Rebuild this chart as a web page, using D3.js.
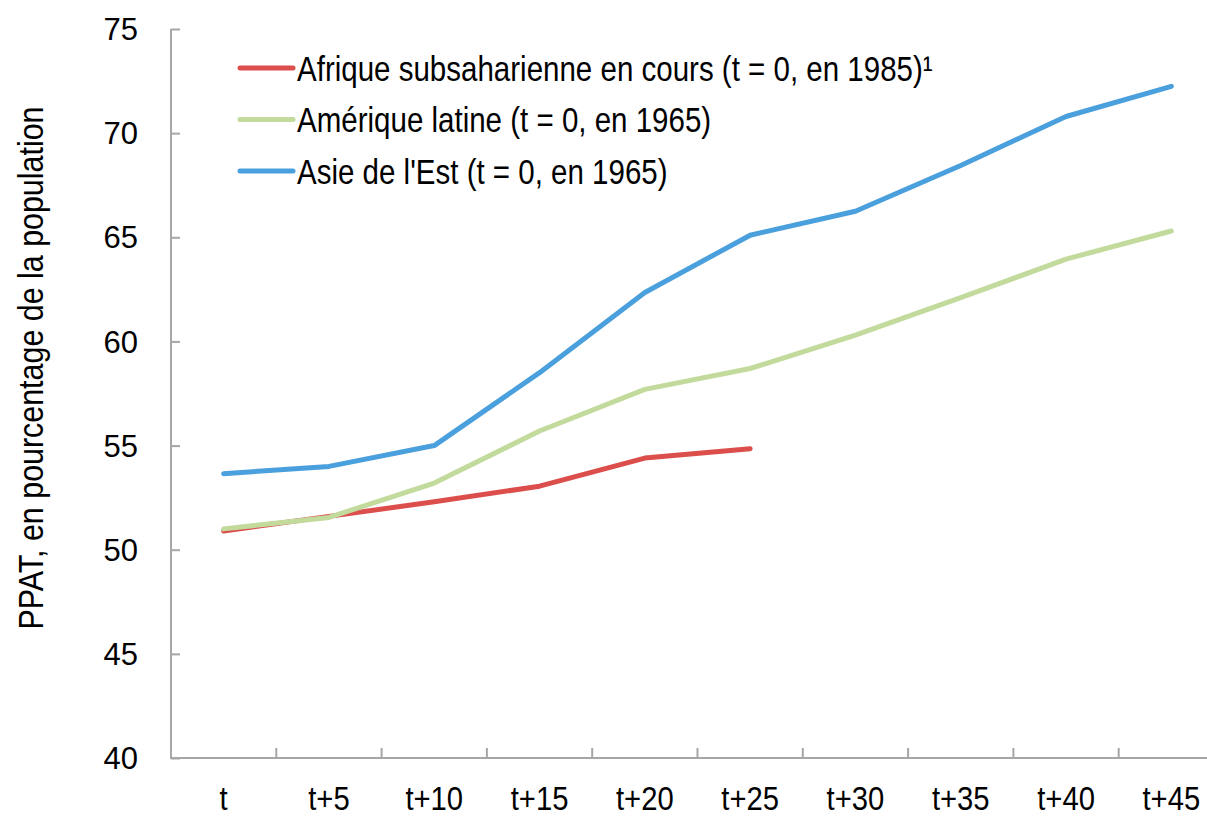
<!DOCTYPE html>
<html><head><meta charset="utf-8">
<script src="https://cdn.jsdelivr.net/npm/d3@7"></script>
<style>body{margin:0;background:#fff}svg{display:block}</style>
</head><body>
<svg id="c" width="1207" height="818"></svg>
<script>
const categories = ["t","t+5","t+10","t+15","t+20","t+25","t+30","t+35","t+40","t+45"];
const afrique = [50.9, 51.6, 52.3, 53.05, 54.4, 54.85];
const amerique = [51.0, 51.55, 53.2, 55.7, 57.7, 58.7, 60.3, 62.1, 63.95, 65.3];
const asie = [53.65, 54.0, 55.0, 58.5, 62.35, 65.1, 66.25, 68.45, 70.8, 72.25];
const seriesNames = ["Afrique subsaharienne en cours (t = 0, en 1985)¹","Amérique latine (t = 0, en 1965)","Asie de l'Est (t = 0, en 1965)"];
const seriesColors = ["#dc4e4c","#c2da9b","#4a9fdd"];
const yTicks = [40,45,50,55,60,65,70,75];
const yTitle = "PPAT, en pourcentage de la population";

const svg = d3.select("#c");
const FONT = "Liberation Sans, Arial, sans-serif";
const NARROW = 0.82;
const mLeft = 171, mTop = 29, mBottom = 758, bandW = 105.3;
const x = d3.scaleBand().domain(categories).range([mLeft, mLeft + bandW*categories.length]).padding(0);
const y = d3.scaleLinear().domain([40,75]).range([mBottom, mTop]);
const axisColor = "#a6a6a6";

// y axis
const ya = svg.append("g").attr("transform",`translate(${mLeft},0)`)
  .call(d3.axisRight(y).tickValues(yTicks).tickSize(9).tickFormat(""));
ya.select(".domain").attr("stroke",axisColor).attr("stroke-width",2).attr("d",`M0,${mTop}V${mBottom}`);
ya.selectAll(".tick line").attr("stroke",axisColor).attr("stroke-width",2);
svg.append("g").selectAll("text").data(yTicks).join("text")
  .attr("x",138).attr("y",d=>y(d)).attr("dy","0.36em").attr("text-anchor","end")
  .attr("font-family",FONT).attr("font-size",31).attr("fill","#000")
  .text(d=>d);

// x axis
const xa = svg.append("g").attr("transform",`translate(0,${mBottom})`);
xa.append("line").attr("x1",mLeft-1).attr("x2",1207).attr("y1",0).attr("y2",0).attr("stroke",axisColor).attr("stroke-width",2);
xa.selectAll("line.tk").data(categories.slice(1)).join("line").attr("class","tk")
  .attr("x1",d=>x(d)).attr("x2",d=>x(d)).attr("y1",0).attr("y2",-10).attr("stroke",axisColor).attr("stroke-width",2);
xa.selectAll("text").data(categories).join("text")
  .attr("transform",d=>`translate(${x(d)+x.bandwidth()/2},52) scale(0.86,1)`)
  .attr("text-anchor","middle")
  .attr("font-family",FONT).attr("font-size",34).attr("fill","#000")
  .text(d=>d);

// y title
svg.append("text").attr("transform",`translate(43,368) rotate(-90) scale(0.845,1)`).attr("text-anchor","middle")
  .attr("font-family",FONT).attr("font-size",36).attr("fill","#000")
  .text(yTitle);

// lines
const line = d3.line().x((d,i)=>x(categories[i])+x.bandwidth()/2).y(d=>y(d));
[afrique, amerique, asie].forEach((s,i)=>{
  svg.append("path").datum(s).attr("d",line).attr("fill","none")
    .attr("stroke",seriesColors[i]).attr("stroke-width",5).attr("stroke-linejoin","round").attr("stroke-linecap","round");
});
// legend
const lg = svg.append("g");
seriesNames.forEach((n,i)=>{
  const yy = 68 + i*51.5;
  lg.append("line").attr("x1",240).attr("x2",293).attr("y1",yy).attr("y2",yy)
    .attr("stroke",seriesColors[i]).attr("stroke-width",5).attr("stroke-linecap","round");
  lg.append("text").attr("transform",`translate(297,${yy}) scale(${NARROW},1)`).attr("dy","0.36em")
    .attr("font-family",FONT).attr("font-size",36).attr("fill","#000")
    .text(n);
});
</script>
</body></html>
